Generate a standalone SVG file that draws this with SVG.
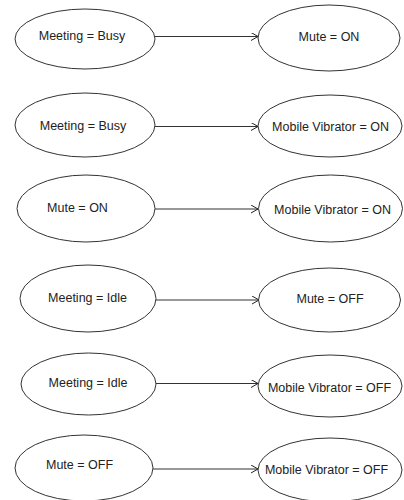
<svg xmlns="http://www.w3.org/2000/svg" width="404" height="500" viewBox="0 0 404 500">
<defs>
<marker id="arr" markerUnits="userSpaceOnUse" markerWidth="10" markerHeight="10" refX="7" refY="4" orient="auto">
<path d="M0,0 L7,4 L0,8" fill="none" stroke="#222" stroke-width="1"/>
</marker>
<style>
.n ellipse{fill:#fff;stroke:#333;stroke-width:1}
.n text{font-family:"Liberation Sans",Arial,sans-serif;font-size:12.5px;fill:#222;text-anchor:middle}
.e line{stroke:#333;stroke-width:1.2;marker-end:url(#arr)}
</style>
</defs>
<rect width="404" height="500" fill="#fff"/>
<g id="edges" class="e">
<line x1="155" y1="36.5" x2="258" y2="36.5"/>
<line x1="155" y1="126.5" x2="258" y2="126.5"/>
<line x1="155" y1="209" x2="258" y2="209"/>
<line x1="156" y1="300" x2="259" y2="300"/>
<line x1="156" y1="383.5" x2="258" y2="383.5"/>
<line x1="153" y1="469" x2="258" y2="469"/>
</g>
<g id="n1" class="n"><ellipse cx="85" cy="39" rx="70" ry="30"/><text x="82" y="40">Meeting = Busy</text></g>
<g id="n2" class="n"><ellipse cx="329" cy="38" rx="71" ry="33"/><text x="329" y="40.5">Mute = ON</text></g>
<g id="n3" class="n"><ellipse cx="85" cy="125" rx="70" ry="32"/><text x="83" y="129.5">Meeting = Busy</text></g>
<g id="n4" class="n"><ellipse cx="330" cy="126" rx="72" ry="31"/><text x="330.5" y="130.5">Mobile Vibrator = ON</text></g>
<g id="n5" class="n"><ellipse cx="86" cy="208.5" rx="69" ry="33.5"/><text x="77.5" y="211.5">Mute = ON</text></g>
<g id="n6" class="n"><ellipse cx="330.5" cy="208.5" rx="72" ry="33.5"/><text x="332.5" y="214">Mobile Vibrator = ON</text></g>
<g id="n7" class="n"><ellipse cx="88" cy="298.5" rx="68" ry="33.5"/><text x="87.5" y="301.5">Meeting = Idle</text></g>
<g id="n8" class="n"><ellipse cx="329.5" cy="300" rx="71" ry="32"/><text x="330" y="303">Mute = OFF</text></g>
<g id="n9" class="n"><ellipse cx="88.5" cy="384" rx="67.5" ry="31"/><text x="88" y="386.5">Meeting = Idle</text></g>
<g id="n10" class="n"><ellipse cx="330" cy="386" rx="72" ry="31"/><text x="329.5" y="392">Mobile Vibrator = OFF</text></g>
<g id="n11" class="n"><ellipse cx="84" cy="468" rx="69" ry="33"/><text x="79.5" y="469">Mute = OFF</text></g>
<g id="n12" class="n"><ellipse cx="330" cy="470" rx="72" ry="32"/><text x="326.5" y="474">Mobile Vibrator = OFF</text></g>
</svg>
